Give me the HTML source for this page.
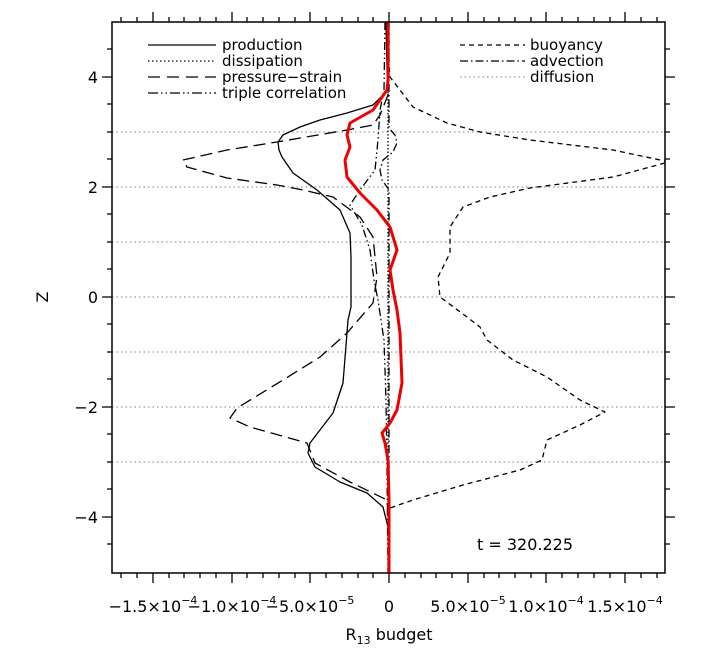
<!DOCTYPE html>
<html><head><meta charset="utf-8"><style>
html,body{margin:0;padding:0;background:#fff;}
svg{display:block;font-family:"DejaVu Sans","Liberation Sans",sans-serif;}
</style></head><body>
<svg width="722" height="649" viewBox="0 0 722 649" xmlns="http://www.w3.org/2000/svg">
<g stroke="#999" stroke-width="1.2" stroke-dasharray="1.5,3">
<line x1="112" y1="132" x2="665" y2="132"/><line x1="112" y1="187" x2="665" y2="187"/>
<line x1="112" y1="242" x2="665" y2="242"/><line x1="112" y1="297" x2="665" y2="297"/>
<line x1="112" y1="352" x2="665" y2="352"/><line x1="112" y1="407" x2="665" y2="407"/>
<line x1="112" y1="462" x2="665" y2="462"/>
</g>
<g fill="none" stroke="#000" stroke-width="1.3" stroke-linejoin="round">
<polyline points="386,22 387,70 388,90 373,105 347,113 320,120 300,127 283,135 278,142 279,150 282,157 293,173 317,190 340,210 350,233 351,257 351,307 348,320 347,333 343,383 333,413 320,430 310,443 308,453 315,467 340,482 367,493 383,507 388,527 389,573"/>
<polyline stroke-dasharray="12,6" points="388,22 388,95 380,115 373,125 347,130 277,142 227,150 183,160 187,167 227,178 277,185 303,190 333,197 360,217 373,237 377,277 373,303 347,333 320,357 283,380 237,408 230,418 250,427 307,443 315,463 350,482 387,500 388,513 389,573"/>
<polyline stroke-dasharray="8,3,1.5,3,1.5,3" points="385,22 384,90 380,110 378,140 375,170 360,190 350,205 362,225 370,250 374,280 378,300 384,340 386,400 387,470 388,573"/>
<polyline stroke-dasharray="5,4" points="389,22 389,65 390,77 413,107 447,123 480,132 530,140 613,150 665,161"/>
<polyline stroke-dasharray="5,4" points="665,163 613,177 530,188 490,197 463,207 450,227 450,253 438,277 440,297 467,317 480,327 487,340 513,360 547,377 580,400 605,412 580,425 547,440 542,460 520,470 463,485 413,500 390,508 389,530 389,573"/>
<polyline stroke-dasharray="8,3,1.5,3" points="389,22 389,128 395,135 397,143 393,152 383,160 380,170 382,180 389,190 389,573"/>
<polyline stroke-dasharray="1.5,2" points="388,22 388,573"/>
</g>
<polyline fill="none" stroke="#e00" stroke-width="3" stroke-linejoin="round" points="388,22 388,80 387,90 373,110 350,123 347,135 350,147 345,160 347,177 360,193 377,210 390,227 397,250 390,270 393,290 397,310 400,333 402,383 397,410 390,423 382,433 385,443 388,460 389,500 389,573"/>
<rect x="112" y="22" width="553" height="551" fill="none" stroke="#000" stroke-width="1.5"/>
<g stroke="#000" stroke-width="1.3">
<path d="M153,573v10M232,573v10M310,573v10M389,573v10M468,573v10M546,573v10M625,573v10
M153,22v-10M232,22v-10M310,22v-10M389,22v-10M468,22v-10M546,22v-10M625,22v-10"/>
<path d="M121,573v5M137,573v5M169,573v5M184,573v5M200,573v5M216,573v5M247,573v5M263,573v5M279,573v5M295,573v5M326,573v5M342,573v5M358,573v5M373,573v5M405,573v5M421,573v5M436,573v5M452,573v5M484,573v5M499,573v5M515,573v5M531,573v5M562,573v5M578,573v5M594,573v5M610,573v5M641,573v5M657,573v5
M121,22v-5M137,22v-5M169,22v-5M184,22v-5M200,22v-5M216,22v-5M247,22v-5M263,22v-5M279,22v-5M295,22v-5M326,22v-5M342,22v-5M358,22v-5M373,22v-5M405,22v-5M421,22v-5M436,22v-5M452,22v-5M484,22v-5M499,22v-5M515,22v-5M531,22v-5M562,22v-5M578,22v-5M594,22v-5M610,22v-5M641,22v-5M657,22v-5"/>
<path d="M112,77h-10M112,187h-10M112,297h-10M112,407h-10M112,517h-10
M112,132h-5M112,242h-5M112,352h-5M112,462h-5M112,49h-5M112,104h-5M112,159h-5M112,214h-5M112,269h-5M112,324h-5M112,379h-5M112,434h-5M112,489h-5M112,544h-5
M665,77h10M665,187h10M665,297h10M665,407h10M665,517h10
M665,132h5M665,242h5M665,352h5M665,462h5M665,49h5M665,104h5M665,159h5M665,214h5M665,269h5M665,324h5M665,379h5M665,434h5M665,489h5M665,544h5"/>
</g>
<g font-size="16" text-anchor="end">
<text x="98" y="83">4</text><text x="98" y="193">2</text><text x="98" y="303">0</text>
<text x="98" y="413">−2</text><text x="98" y="523">−4</text>
</g>
<text x="42" y="303" font-size="16" text-anchor="middle" transform="rotate(-90 42 297)">Z</text>
<g font-size="16" text-anchor="middle">
<text x="153" y="612">−1.5×10<tspan font-size="11" dy="-8">−4</tspan></text>
<text x="232" y="612">−1.0×10<tspan font-size="11" dy="-8">−4</tspan></text>
<text x="310" y="612">−5.0×10<tspan font-size="11" dy="-8">−5</tspan></text>
<text x="389" y="612">0</text>
<text x="468" y="612">5.0×10<tspan font-size="11" dy="-8">−5</tspan></text>
<text x="546" y="612">1.0×10<tspan font-size="11" dy="-8">−4</tspan></text>
<text x="625" y="612">1.5×10<tspan font-size="11" dy="-8">−4</tspan></text>
<text x="389" y="640">R<tspan font-size="11" dy="4">13</tspan><tspan dy="-4"> budget</tspan></text>
</g>
<g font-size="15">
<text x="222" y="50">production</text><text x="222" y="66">dissipation</text>
<text x="222" y="82">pressure−strain</text><text x="222" y="98">triple correlation</text>
<text x="530" y="50">buoyancy</text><text x="530" y="66">advection</text><text x="530" y="82">diffusion</text>
<text x="477" y="550" font-size="16">t = 320.225</text>
</g>
<g fill="none" stroke="#000" stroke-width="1.3">
<line x1="148" y1="45" x2="216" y2="45"/>
<line x1="148" y1="61" x2="216" y2="61" stroke-dasharray="1.5,2.5"/>
<line x1="148" y1="77" x2="216" y2="77" stroke-dasharray="12,7"/>
<line x1="148" y1="93" x2="216" y2="93" stroke-dasharray="10,3,1.5,3,1.5,3"/>
<line x1="460" y1="45" x2="525" y2="45" stroke-dasharray="5,4"/>
<line x1="460" y1="61" x2="525" y2="61" stroke-dasharray="8,3,1.5,3"/>
<line x1="460" y1="77" x2="525" y2="77" stroke="#999" stroke-dasharray="1.5,3"/>
</g>
</svg>
</body></html>
